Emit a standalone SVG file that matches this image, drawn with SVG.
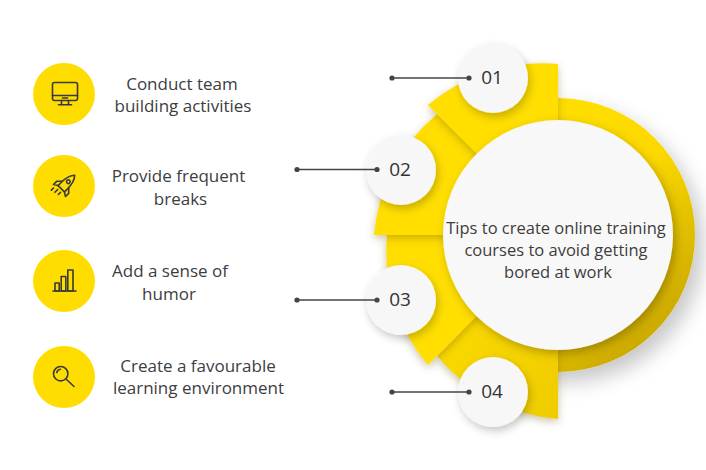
<svg xmlns="http://www.w3.org/2000/svg" width="706" height="470" viewBox="0 0 706 470">
  <defs>
    <style>
      .lbl { font-family: "Open Sans", "Liberation Sans", sans-serif; font-size: 17px; fill: #3d3d3d; text-anchor: middle; }
      .ttl { font-family: "Open Sans", "Liberation Sans", sans-serif; font-size: 16.5px; fill: #3d3d3d; text-anchor: middle; }
      .num { font-family: "Open Sans", "Liberation Sans", sans-serif; font-size: 19px; fill: #333333; text-anchor: middle; }
      .ic { fill: none; stroke: #3a3a3a; stroke-width: 1.6; stroke-linecap: round; stroke-linejoin: round; }
      .icbg { fill: #FFDD00; }
      .seg { fill: #FFDE00; filter: url(#segsh); }
      .numc { fill: #F7F7F7; filter: url(#csh); }
      .conn { stroke: #444444; stroke-width: 1.5; fill: none; }
      .dot { fill: #444444; }
    </style>
    <linearGradient id="ringg" x1="0.2" y1="0.1" x2="0.9" y2="0.95">
      <stop offset="0" stop-color="#FFE000"/>
      <stop offset="0.45" stop-color="#FCD900"/>
      <stop offset="0.75" stop-color="#DDBB00"/>
      <stop offset="1" stop-color="#C2A000"/>
    </linearGradient>
    <linearGradient id="seg4g" x1="0" y1="0" x2="1" y2="1">
      <stop offset="0" stop-color="#FFDE00"/>
      <stop offset="1" stop-color="#EFCC00"/>
    </linearGradient>
    <filter id="ringsh" x="-20%" y="-20%" width="150%" height="150%">
      <feDropShadow dx="8" dy="10" stdDeviation="10" flood-color="#000" flood-opacity="0.22"/>
    </filter>
    <filter id="segsh" x="-20%" y="-20%" width="140%" height="140%">
      <feDropShadow dx="0" dy="3" stdDeviation="4" flood-color="#6b5500" flood-opacity="0.35"/>
    </filter>
    <filter id="wsh" x="-20%" y="-20%" width="140%" height="140%">
      <feDropShadow dx="3" dy="4" stdDeviation="5" flood-color="#5a4600" flood-opacity="0.4"/>
    </filter>
    <filter id="csh" x="-40%" y="-40%" width="180%" height="180%">
      <feDropShadow dx="2" dy="4" stdDeviation="4" flood-color="#000" flood-opacity="0.22"/>
    </filter>
  </defs>

  <rect x="0" y="0" width="706" height="470" fill="#FFFFFF"/>

  <g id="hub">
    <circle cx="558" cy="235" r="137" fill="url(#ringg)" filter="url(#ringsh)"/>
    <path class="seg" style="fill:url(#seg4g)" d="M558,235 L437.1,355.9 A178,178 0 0 0 558,419 Z"/>
    <path class="seg" d="M558,235 L387,235 A178,178 0 0 0 427.9,365.1 Z"/>
    <path class="seg" d="M558,235 L437.1,114.1 A178,178 0 0 0 374,235 Z"/>
    <path class="seg" d="M558,235 L558,64 A178,178 0 0 0 427.9,104.9 Z"/>
    <circle cx="558" cy="235" r="115" fill="#F8F8F8" filter="url(#wsh)"/>
    <text class="ttl" x="556" y="234">Tips to create online training</text>
    <text class="ttl" x="556" y="256">courses to avoid getting</text>
    <text class="ttl" x="558" y="278">bored at work</text>
  </g>

  <g id="step-01">
    <circle class="numc" cx="493" cy="78" r="35"/>
    <text class="num" x="492" y="84">01</text>
  </g>
  <g id="step-02">
    <circle class="numc" cx="401" cy="170" r="35"/>
    <text class="num" x="400" y="176">02</text>
  </g>
  <g id="step-03">
    <circle class="numc" cx="401" cy="300" r="35"/>
    <text class="num" x="400" y="306">03</text>
  </g>
  <g id="step-04">
    <circle class="numc" cx="493" cy="392" r="35"/>
    <text class="num" x="492" y="398">04</text>
  </g>

  <g id="connectors">
    <line class="conn" x1="392" y1="78" x2="469" y2="78"/>
    <circle class="dot" cx="392" cy="78" r="2.6"/>
    <circle class="dot" cx="469" cy="78" r="2.6"/>
    <line class="conn" x1="297" y1="169.5" x2="377" y2="169.5"/>
    <circle class="dot" cx="297" cy="169.5" r="2.6"/>
    <circle class="dot" cx="377" cy="169.5" r="2.6"/>
    <line class="conn" x1="297" y1="300" x2="377" y2="300"/>
    <circle class="dot" cx="297" cy="300" r="2.6"/>
    <circle class="dot" cx="377" cy="300" r="2.6"/>
    <line class="conn" x1="392" y1="392" x2="469" y2="392"/>
    <circle class="dot" cx="392" cy="392" r="2.6"/>
    <circle class="dot" cx="469" cy="392" r="2.6"/>
  </g>

  <g id="tip-1">
    <circle class="icbg" cx="64" cy="94" r="31"/>
    <rect class="ic" x="52.5" y="82.5" width="25" height="18" rx="2"/>
    <line class="ic" x1="52.5" y1="95.5" x2="77.5" y2="95.5"/>
    <line class="ic" x1="62.5" y1="98" x2="67.5" y2="98"/>
    <line class="ic" x1="61.5" y1="100.5" x2="61.5" y2="104.5"/>
    <line class="ic" x1="68.5" y1="100.5" x2="68.5" y2="104.5"/>
    <line class="ic" x1="58.5" y1="104.8" x2="71.5" y2="104.8"/>
    <text class="lbl" x="182" y="90">Conduct team</text>
    <text class="lbl" x="183" y="112">building activities</text>
  </g>

  <g id="tip-2">
    <circle class="icbg" cx="64" cy="186" r="31"/>
    <g transform="translate(65.5 184.5) rotate(45)">
      <path class="ic" d="M0,-13 C4,-9 4.5,-4 4.5,2 L4.5,6 L-4.5,6 L-4.5,2 C-4.5,-4 -4,-9 0,-13 Z"/>
      <circle class="ic" cx="0" cy="-4" r="1.8"/>
      <path class="ic" d="M-4.5,0 L-8.5,4 L-8.5,8.5 L-4.5,6"/>
      <path class="ic" d="M4.5,0 L8.5,4 L8.5,8.5 L4.5,6"/>
      <line class="ic" x1="-2" y1="9" x2="-2" y2="13"/>
      <line class="ic" x1="2" y1="9" x2="2" y2="12"/>
      <line class="ic" x1="-6" y1="11" x2="-6" y2="14"/>
    </g>
    <text class="lbl" x="178.5" y="182">Provide frequent</text>
    <text class="lbl" x="180.5" y="205">breaks</text>
  </g>

  <g id="tip-3">
    <circle class="icbg" cx="64" cy="281" r="31"/>
    <rect class="ic" x="55" y="283" width="4.2" height="8"/>
    <rect class="ic" x="61.2" y="276.5" width="4.6" height="14.5"/>
    <rect class="ic" x="67.8" y="270" width="5.2" height="21"/>
    <line class="ic" x1="53" y1="291" x2="76" y2="291"/>
    <text class="lbl" x="170" y="277">Add a sense of</text>
    <text class="lbl" x="169" y="300">humor</text>
  </g>

  <g id="tip-4">
    <circle class="icbg" cx="64" cy="377" r="31"/>
    <circle class="ic" cx="60.7" cy="373.7" r="7.2"/>
    <line class="ic" x1="66" y1="379" x2="74" y2="386.5"/>
    <path class="ic" d="M56.8,372.5 A4.3,4.3 0 0 1 60.5,369.2"/>
    <text class="lbl" x="198" y="372">Create a favourable</text>
    <text class="lbl" x="198.5" y="394">learning environment</text>
  </g>
</svg>
